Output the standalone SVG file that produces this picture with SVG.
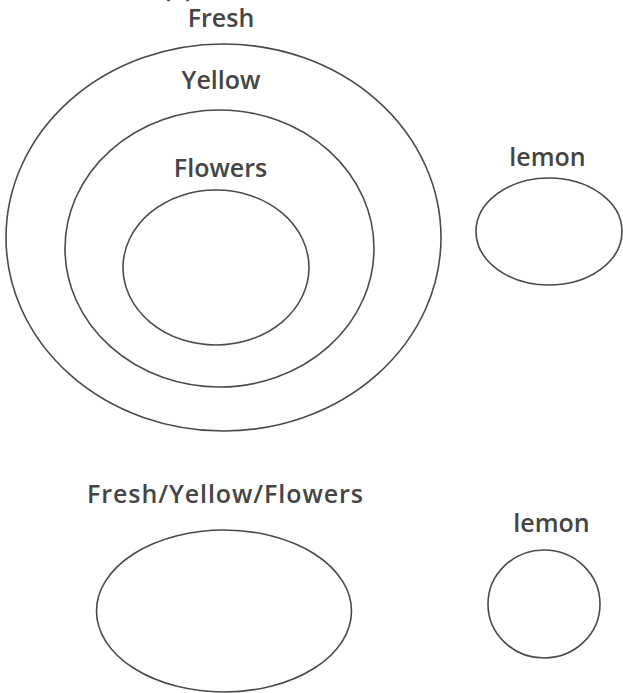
<svg xmlns="http://www.w3.org/2000/svg" width="623" height="693" viewBox="0 0 623 693">
<style>
.set{fill:none;stroke:#4a4a4a;stroke-width:1.6}
.lbl{font-family:"Open Sans","Noto Sans",sans-serif;font-size:25px;font-weight:600;fill:#454545;text-anchor:middle}
</style>
<rect width="623" height="693" fill="#fff"/>
<text class="lbl" x="178" y="-3">(ii)</text>
<g id="fresh"><ellipse class="set" cx="223.5" cy="237.5" rx="217.5" ry="193.5"/><text class="lbl" x="221" y="27">Fresh</text></g>
<g id="yellow"><ellipse class="set" cx="219.5" cy="248.5" rx="154.5" ry="138.5"/><text class="lbl" x="221" y="89">Yellow</text></g>
<g id="flowers"><ellipse class="set" cx="216" cy="267.5" rx="93" ry="77.5"/><text class="lbl" x="220.5" y="177">Flowers</text></g>
<g id="lemon1"><ellipse class="set" cx="549" cy="231.5" rx="73" ry="53.5"/><text class="lbl" x="547.5" y="166">lemon</text></g>
<g id="fyf"><ellipse class="set" cx="224" cy="611" rx="127.5" ry="81"/><text class="lbl" x="225" y="503" textLength="276">Fresh/Yellow/Flowers</text></g>
<g id="lemon2"><ellipse class="set" cx="544" cy="604" rx="56" ry="54"/><text class="lbl" x="551.5" y="532">lemon</text></g>
<g id="connectors"></g>
</svg>
